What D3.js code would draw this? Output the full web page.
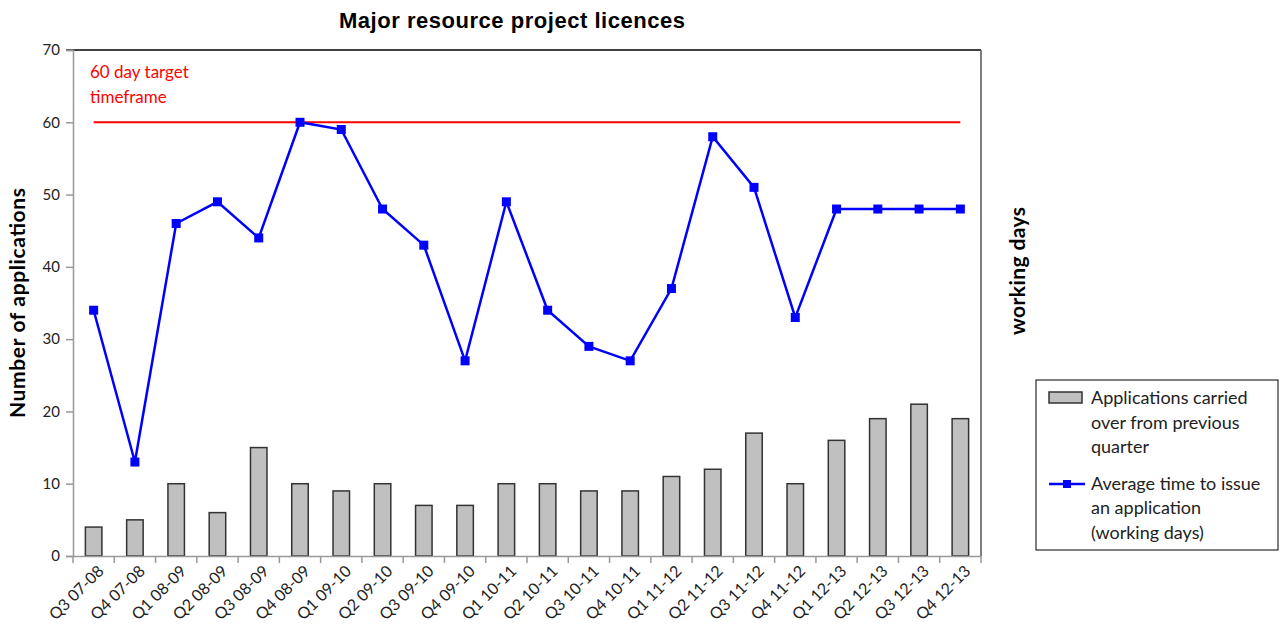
<!DOCTYPE html>
<html>
<head>
<meta charset="utf-8">
<script src="https://cdn.jsdelivr.net/npm/d3@7/dist/d3.min.js"></script>
<style>
  body { margin: 0; background: #fff; }
  text { font-family: Lato, "Open Sans", sans-serif; }
</style>
</head>
<body>
<svg width="1285" height="638"></svg>
<script>
// Data
let quarters = ["Q3 07-08", "Q4 07-08", "Q1 08-09", "Q2 08-09", "Q3 08-09", "Q4 08-09",
  "Q1 09-10", "Q2 09-10", "Q3 09-10", "Q4 09-10", "Q1 10-11", "Q2 10-11", "Q3 10-11",
  "Q4 10-11", "Q1 11-12", "Q2 11-12", "Q3 11-12", "Q4 11-12", "Q1 12-13", "Q2 12-13",
  "Q3 12-13", "Q4 12-13"];
let carriedOver = [4, 5, 10, 6, 15, 10, 9, 10, 7, 7, 10, 10, 9, 9, 11, 12, 17, 10, 16, 19, 21, 19];
let avgDays = [34, 13, 46, 49, 44, 60, 59, 48, 43, 27, 49, 34, 29, 27, 37, 58, 51, 33, 48, 48, 48, 48];
let target = 60;
let yTicks = [0, 10, 20, 30, 40, 50, 60, 70];

let svg = d3.select("svg");

let margin = { top: 50, left: 73 },
    chartWidth = 981 - 73,
    chartHeight = 556 - 50;

let g = svg.append("g")
  .attr("transform", "translate(" + margin.left + "," + margin.top + ")");

let x = d3.scaleBand().domain(quarters).range([0, chartWidth]);
let y = d3.scaleLinear().domain([0, 70]).range([chartHeight, 0]);

// Title
svg.append("text")
  .attr("x", 512).attr("y", 28)
  .attr("text-anchor", "middle")
  .style("font-family", "'Liberation Sans', Arial, sans-serif")
  .style("font-weight", "bold")
  .style("font-size", "22px")
  .attr("textLength", 346)
  .text("Major resource project licences");

// top and right frame
g.append("line").attr("x1", -7).attr("x2", chartWidth).attr("y1", 0).attr("y2", 0)
  .attr("stroke", "#000").attr("stroke-width", 1.5);
g.append("line").attr("x1", chartWidth).attr("x2", chartWidth).attr("y1", 0).attr("y2", chartHeight)
  .attr("stroke", "#555").attr("stroke-width", 1.5);

// Y axis
let yAxis = g.append("g")
  .call(d3.axisLeft(y).tickValues(yTicks).tickSize(7).tickPadding(6));
yAxis.select(".domain").attr("stroke", "#999").attr("stroke-width", 1.5);
yAxis.selectAll(".tick line").attr("stroke", "#999").attr("stroke-width", 1.5);
yAxis.selectAll("text").style("font-size", "15px").attr("fill", "#222");

// Bars
g.selectAll(".bar")
  .data(carriedOver)
  .enter()
  .append("rect")
  .attr("class", "bar")
  .attr("x", (d, i) => x(quarters[i]) + x.bandwidth() * 0.3)
  .attr("y", d => y(d))
  .attr("width", x.bandwidth() * 0.4)
  .attr("height", d => chartHeight - y(d))
  .attr("fill", "#c0c0c0")
  .attr("stroke", "#333")
  .attr("stroke-width", 1.5);

// X axis
let xAxis = g.append("g")
  .attr("transform", "translate(0," + chartHeight + ")")
  .call(d3.axisBottom(x).tickSize(0).tickSizeOuter(0));
xAxis.select(".domain").attr("stroke", "#999").attr("stroke-width", 1.5);
xAxis.selectAll("text")
  .style("font-size", "16px")
  .attr("fill", "#222")
  .attr("transform", "translate(5,10)rotate(-45)")
  .attr("dy", "0.35em")
  .style("text-anchor", "end");

// tick marks between categories
let bounds = quarters.map(q => x(q)).concat([chartWidth]);
xAxis.selectAll(".sep")
  .data(bounds)
  .enter()
  .append("line")
  .attr("class", "sep")
  .attr("x1", d => d).attr("x2", d => d)
  .attr("y1", 0).attr("y2", 7)
  .attr("stroke", "#999").attr("stroke-width", 1.5);

// Target line
let cx = q => x(q) + x.bandwidth() / 2;
g.append("line")
  .attr("x1", cx(quarters[0]))
  .attr("x2", cx(quarters[quarters.length - 1]))
  .attr("y1", y(target)).attr("y2", y(target))
  .attr("stroke", "#ff0000").attr("stroke-width", 2);

g.append("text")
  .attr("x", 17).attr("y", y(66.1))
  .attr("fill", "#ff0000")
  .style("font-size", "17px")
  .text("60 day target");
g.append("text")
  .attr("x", 17).attr("y", y(62.6))
  .attr("fill", "#ff0000")
  .style("font-size", "17px")
  .text("timeframe");

// Average time line
let line = d3.line()
  .x((d, i) => cx(quarters[i]))
  .y(d => y(d));

g.append("path")
  .datum(avgDays)
  .attr("d", line)
  .attr("fill", "none")
  .attr("stroke", "#0000ff")
  .attr("stroke-width", 2.5);

g.selectAll(".marker")
  .data(avgDays)
  .enter()
  .append("rect")
  .attr("class", "marker")
  .attr("x", (d, i) => cx(quarters[i]) - 4.5)
  .attr("y", d => y(d) - 4.5)
  .attr("width", 9).attr("height", 9)
  .attr("fill", "#0000ff");

// Axis titles
svg.append("text")
  .attr("transform", "translate(25,303)rotate(-90)")
  .attr("text-anchor", "middle")
  .style("font-weight", "bold")
  .style("font-size", "21px")
  .attr("textLength", 230)
  .text("Number of applications");

svg.append("text")
  .attr("transform", "translate(1025,271)rotate(-90)")
  .attr("text-anchor", "middle")
  .style("font-weight", "bold")
  .style("font-size", "21px")
  .attr("textLength", 128)
  .text("working days");

// Legend
let legend = svg.append("g").attr("transform", "translate(1036,380)");
legend.append("rect")
  .attr("width", 242).attr("height", 170)
  .attr("fill", "#fff").attr("stroke", "#000").attr("stroke-width", 1);
legend.append("rect")
  .attr("x", 13).attr("y", 12).attr("width", 33).attr("height", 11)
  .attr("fill", "#c0c0c0").attr("stroke", "#333").attr("stroke-width", 1.5);
legend.append("line")
  .attr("x1", 13).attr("x2", 49).attr("y1", 104).attr("y2", 104)
  .attr("stroke", "#0000ff").attr("stroke-width", 2.5);
legend.append("rect")
  .attr("x", 27).attr("y", 100).attr("width", 8).attr("height", 8)
  .attr("fill", "#0000ff");

let legendLines = [
  ["Applications  carried", 24], ["over from previous", 49], ["quarter", 73],
  ["Average time to issue", 110], ["an application", 134], ["(working days)", 159]
];
legend.selectAll(".lt")
  .data(legendLines)
  .enter()
  .append("text")
  .attr("class", "lt")
  .attr("x", 55)
  .attr("y", d => d[1])
  .style("font-size", "18px")
  .attr("fill", "#222")
  .text(d => d[0]);
</script>
</body>
</html>
